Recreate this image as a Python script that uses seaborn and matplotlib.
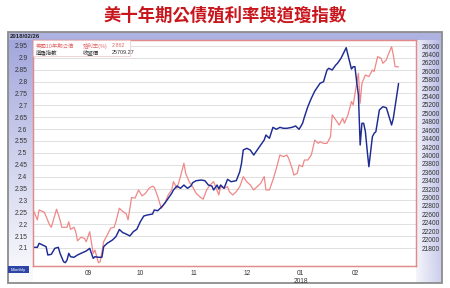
import numpy as np
import pandas as pd
import matplotlib
matplotlib.use("Agg")
import matplotlib.pyplot as plt
import matplotlib.dates as mdates
from matplotlib.ticker import FixedLocator, FuncFormatter
from matplotlib.patches import Rectangle
import seaborn as sns

# ---------------- data ----------------
TITLE = "美十年期公債殖利率與道瓊指數"
DATE_STAMP = "2018/02/26"
BUTTON_TEXT = "Monthly"

yield_dates = [
    "2017-08-01", "2017-08-03", "2017-08-04", "2017-08-07", "2017-08-10", "2017-08-11",
    "2017-08-14", "2017-08-16", "2017-08-17", "2017-08-20", "2017-08-21", "2017-08-22",
    "2017-08-24", "2017-08-25", "2017-08-26", "2017-08-28", "2017-08-30", "2017-08-31",
    "2017-09-02", "2017-09-04", "2017-09-05", "2017-09-07", "2017-09-08", "2017-09-10",
    "2017-09-12", "2017-09-14", "2017-09-16", "2017-09-17", "2017-09-19", "2017-09-21",
    "2017-09-23", "2017-09-24", "2017-09-26", "2017-09-28", "2017-09-30", "2017-10-02",
    "2017-10-04", "2017-10-06", "2017-10-08", "2017-10-09", "2017-10-11", "2017-10-13",
    "2017-10-15", "2017-10-17", "2017-10-19", "2017-10-20", "2017-10-22", "2017-10-24",
    "2017-10-26", "2017-10-27", "2017-10-29", "2017-10-31", "2017-11-02", "2017-11-04",
    "2017-11-06", "2017-11-08", "2017-11-10", "2017-11-12", "2017-11-15", "2017-11-16",
    "2017-11-18", "2017-11-20", "2017-11-21", "2017-11-23", "2017-11-25", "2017-11-27",
    "2017-11-29", "2017-12-01", "2017-12-03", "2017-12-05", "2017-12-07", "2017-12-09",
    "2017-12-11", "2017-12-12", "2017-12-14", "2017-12-16", "2017-12-18", "2017-12-20",
    "2017-12-22", "2017-12-24", "2017-12-25", "2017-12-27", "2017-12-28", "2017-12-30",
    "2017-12-31", "2018-01-02", "2018-01-03", "2018-01-05", "2018-01-07", "2018-01-09",
    "2018-01-11", "2018-01-12", "2018-01-14", "2018-01-16", "2018-01-18", "2018-01-19",
    "2018-01-21", "2018-01-23", "2018-01-25", "2018-01-26", "2018-01-28", "2018-01-30",
    "2018-01-31", "2018-02-02", "2018-02-03", "2018-02-04", "2018-02-05", "2018-02-07",
    "2018-02-09", "2018-02-11", "2018-02-12", "2018-02-14", "2018-02-16", "2018-02-17",
    "2018-02-19", "2018-02-20", "2018-02-22", "2018-02-23", "2018-02-24", "2018-02-26",
]
yield_values = [
    2.253, 2.218, 2.260, 2.250, 2.197, 2.187,
    2.263, 2.218, 2.187, 2.187, 2.210, 2.178,
    2.187, 2.168, 2.130, 2.145, 2.140, 2.126,
    2.168, 2.077, 2.091, 2.038, 2.042, 2.126,
    2.154, 2.183, 2.187, 2.210, 2.267, 2.253,
    2.243, 2.218, 2.312, 2.310, 2.344, 2.319,
    2.330, 2.351, 2.360, 2.355, 2.316, 2.267,
    2.288, 2.323, 2.344, 2.379, 2.351, 2.400,
    2.456, 2.414, 2.379, 2.357, 2.330, 2.316,
    2.305, 2.344, 2.365, 2.379, 2.323, 2.358,
    2.351, 2.358, 2.337, 2.323, 2.337, 2.358,
    2.400, 2.379, 2.365, 2.344, 2.358, 2.372,
    2.400, 2.344, 2.344, 2.386, 2.435, 2.491,
    2.484, 2.491, 2.477, 2.435, 2.407, 2.414,
    2.449, 2.442, 2.470, 2.470, 2.491, 2.554,
    2.540, 2.547, 2.540, 2.540, 2.568, 2.660,
    2.639, 2.617, 2.646, 2.625, 2.660, 2.716,
    2.702, 2.793, 2.835, 2.709, 2.793, 2.828,
    2.821, 2.849, 2.842, 2.905, 2.898, 2.877,
    2.891, 2.912, 2.947, 2.912, 2.863, 2.862,
]

dow_dates = [
    "2017-08-01", "2017-08-03", "2017-08-04", "2017-08-06", "2017-08-08", "2017-08-09",
    "2017-08-11", "2017-08-13", "2017-08-15", "2017-08-16", "2017-08-18", "2017-08-19",
    "2017-08-20", "2017-08-21", "2017-08-22", "2017-08-24", "2017-08-26", "2017-08-28",
    "2017-08-31", "2017-09-02", "2017-09-04", "2017-09-05", "2017-09-07", "2017-09-09",
    "2017-09-10", "2017-09-12", "2017-09-15", "2017-09-17", "2017-09-19", "2017-09-21",
    "2017-09-22", "2017-09-24", "2017-09-25", "2017-09-27", "2017-09-29", "2017-10-01",
    "2017-10-03", "2017-10-05", "2017-10-08", "2017-10-09", "2017-10-11", "2017-10-13",
    "2017-10-15", "2017-10-17", "2017-10-19", "2017-10-20", "2017-10-22", "2017-10-24",
    "2017-10-26", "2017-10-28", "2017-10-30", "2017-10-31", "2017-11-02", "2017-11-05",
    "2017-11-07", "2017-11-09", "2017-11-11", "2017-11-12", "2017-11-14", "2017-11-15",
    "2017-11-16", "2017-11-18", "2017-11-20", "2017-11-22", "2017-11-25", "2017-11-27",
    "2017-11-28", "2017-11-29", "2017-12-01", "2017-12-03", "2017-12-05", "2017-12-07",
    "2017-12-09", "2017-12-11", "2017-12-12", "2017-12-14", "2017-12-16", "2017-12-18",
    "2017-12-20", "2017-12-22", "2017-12-24", "2017-12-27", "2017-12-29", "2017-12-31",
    "2018-01-02", "2018-01-03", "2018-01-05", "2018-01-07", "2018-01-09", "2018-01-12",
    "2018-01-14", "2018-01-16", "2018-01-17", "2018-01-19", "2018-01-21", "2018-01-22",
    "2018-01-24", "2018-01-27", "2018-01-28", "2018-01-30", "2018-01-31", "2018-02-01",
    "2018-02-02", "2018-02-03", "2018-02-04", "2018-02-05", "2018-02-06", "2018-02-07",
    "2018-02-08", "2018-02-09", "2018-02-10", "2018-02-11", "2018-02-12", "2018-02-13",
    "2018-02-15", "2018-02-17", "2018-02-19", "2018-02-20", "2018-02-22", "2018-02-23",
    "2018-02-26",
]
dow_values = [
    21817, 21817, 21912, 21872, 21832, 21634,
    21651, 21793, 21817, 21674, 21475, 21452,
    21515, 21674, 21594, 21580, 21634, 21674,
    21729, 21793, 21555, 21594, 21580, 21580,
    21832, 21912, 21990, 22069, 22240, 22164,
    22150, 22109, 22086, 22189, 22245, 22425,
    22561, 22585, 22608, 22703, 22687, 22767,
    22863, 22981, 23100, 23179, 23274, 23219,
    23297, 23219, 23274, 23352, 23400, 23416,
    23400, 23297, 23274, 23179, 23297, 23203,
    23297, 23219, 23433, 23376, 23400, 23614,
    23813, 24129, 24169, 24129, 24010, 24129,
    24248, 24367, 24485, 24407, 24668, 24621,
    24668, 24645, 24645, 24668, 24700, 24621,
    24764, 24906, 25158, 25357, 25530, 25714,
    25752, 26030, 26070, 26030, 26149, 26189,
    26307, 26560, 26387, 26053, 26108, 26108,
    25752, 25436, 24248, 24764, 24764, 24565,
    24129, 23732, 24089, 24446, 24525, 24565,
    25079, 25158, 25134, 25000, 24723, 24882,
    25709,
]

month_ticks = ["2017-09-01", "2017-10-01", "2017-11-01", "2017-12-01", "2018-01-01", "2018-02-01"]
month_labels = ["09", "10", "11", "12", "01\n2018", "02"]
left_ticks = [2.10, 2.15, 2.20, 2.25, 2.30, 2.35, 2.40, 2.45, 2.50, 2.55,
              2.60, 2.65, 2.70, 2.75, 2.80, 2.85, 2.90, 2.95]
right_ticks = [21800, 22000, 22200, 22400, 22600, 22800, 23000, 23200, 23400,
               23600, 23800, 24000, 24200, 24400, 24600, 24800, 25000, 25200,
               25400, 25600, 25800, 26000, 26200, 26400, 26600]
legend_yield = ["美國10年期公債", "殖利率(%)", "2.862"]
legend_dow = ["道瓊指數", "收盤價", "25709.27"]

# ---------------- style ----------------
sns.set_style("white")
plt.rcParams["font.family"] = ["Liberation Sans", "Noto Sans CJK TC"]

RED = "#f08888"
BLUE = "#1d2b93"
SPINE = "#e08a8a"
TXT = "#333333"

W, H = 450, 288
fig = plt.figure(figsize=(4.5, 2.88), dpi=100)
fig.patch.set_facecolor("white")


def fx(px):
    return px / W


def fy(py):
    return 1 - py / H


# background frame with lavender panels
bg = fig.add_axes([fx(8), fy(283), fx(442) - fx(8), fy(32) - fy(283)])
h, w = 251, 434
yy, xx = np.mgrid[0:h, 0:w]
a = np.zeros((h, w))
left = xx < 25
a[left] = (0.9 * np.clip(1 - yy / (h * 1.05), 0, 1) ** 1.1)[left]
right = xx >= 408
a[right] = ((0.15 + 0.6 * (xx - 408) / 26) * (1 - 0.35 * yy / h))[right]
a[yy < 8] = 0.75
lav = np.array([0.58, 0.60, 0.84])
img = 1 - a[..., None] * (1 - lav)
bg.imshow(img, aspect="auto", extent=[0, w, h, 0], interpolation="bilinear")
bg.set_xlim(0, w)
bg.set_ylim(h, 0)
bg.set_axis_off()
bg.add_patch(Rectangle((0, 0), w, h, fill=False, ec="#8c8c8c", lw=1.3, clip_on=False))

# main axes
ax = fig.add_axes([fx(33), fy(266), fx(416) - fx(33), fy(40) - fy(266)])
ax.set_facecolor("white")
ydf = pd.DataFrame({"date": pd.to_datetime(yield_dates), "value": yield_values})
ddf = pd.DataFrame({"date": pd.to_datetime(dow_dates), "value": dow_values})

sns.lineplot(data=ydf, x="date", y="value", ax=ax, color=RED, lw=0.9)
ax.set_ylim(2.024, 2.975)
ax.yaxis.set_major_locator(FixedLocator(left_ticks))
ax.yaxis.set_major_formatter(FuncFormatter(lambda v, p: f"{v:g}"))
ax.grid(axis="y", color="#dadada", lw=0.6)
ax.grid(axis="x", visible=False)
ax.set_axisbelow(True)

ax2 = ax.twinx()
sns.lineplot(data=ddf, x="date", y="value", ax=ax2, color=BLUE, lw=1.05)
ax2.set_ylim(21373, 26743)
ax2.yaxis.set_major_locator(FixedLocator(right_ticks))
ax2.yaxis.set_major_formatter(FuncFormatter(lambda v, p: f"{int(v)}"))

ax.set_xlim(pd.Timestamp("2017-07-31 12:00"), pd.Timestamp("2018-03-08"))
ax.xaxis.set_major_locator(FixedLocator(mdates.date2num(pd.to_datetime(month_ticks))))
ax.set_xticklabels(month_labels)
ax.xaxis.set_minor_locator(mdates.DayLocator())

for a_ in (ax, ax2):
    a_.set_xlabel("")
    a_.set_ylabel("")
    for s in a_.spines.values():
        s.set_color(SPINE)
        s.set_linewidth(0.9)

ax.tick_params(axis="y", labelsize=4.8, colors=TXT, length=0, pad=4)
ax2.tick_params(axis="y", labelsize=4.8, colors=TXT, length=0, pad=4)
ax.tick_params(axis="x", which="major", labelsize=4.8, labelcolor=TXT, length=3,
               direction="inout", color="#999999", pad=1.5)
ax.tick_params(axis="x", which="minor", length=1.8, direction="in", color=SPINE, width=0.5)
for lbl in ax.get_xticklabels():
    lbl.set_linespacing(1.1)

# legend box
ax2.add_patch(Rectangle((0, 1), (130 - 33) / 383, -16 / 226, transform=ax2.transAxes,
                        fc="white", ec="#ecc4c4", lw=0.5, zorder=5))
rows = [(45.5, legend_yield, "#e46a6a"), (52.0, legend_dow, TXT)]
xs = [36, 83, 112]
for py, texts, col in rows:
    for x0, t in zip(xs, texts):
        fig.text(fx(x0), fy(py), t, fontsize=3.9, color=col, va="center", ha="left", zorder=10)

# header date stamp
fig.text(fx(10), fy(36.2), DATE_STAMP, fontsize=4.3, color="#222222", weight="bold", va="center")

# small button bottom-left
fig.patches.append(Rectangle((fx(8), fy(273)), fx(29) - fx(8), fy(266) - fy(273),
                             transform=fig.transFigure, fc="#2b44a6", ec="none"))
fig.text(fx(18.5), fy(269.5), BUTTON_TEXT, fontsize=3.2, color="white", ha="center", va="center")

# title
fig.text(0.5, fy(16), TITLE, ha="center", va="center", fontsize=12.5, color="#c8161d",
         weight="bold", family=["Noto Sans CJK TC"])

fig.savefig("out.png", dpi=100)
